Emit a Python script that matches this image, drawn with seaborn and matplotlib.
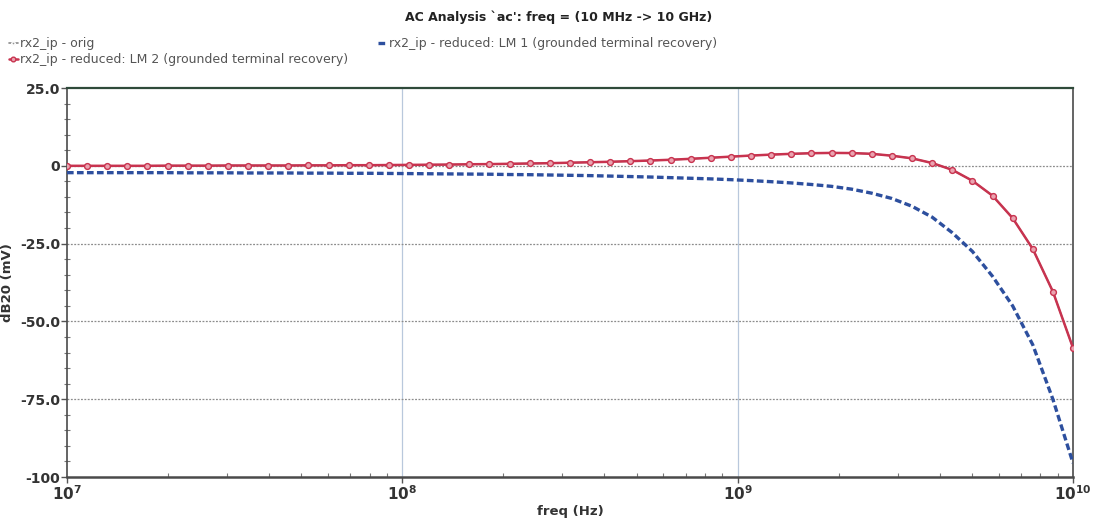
import numpy as np
import pandas as pd
import matplotlib
matplotlib.use("Agg")
import matplotlib.pyplot as plt
import seaborn as sns
from matplotlib.ticker import FixedLocator, LogLocator, NullFormatter

# Frequency sweep: 50 log-spaced steps from 10 MHz to 10 GHz
freq_hz = np.logspace(7, 10, 51)

# dB20 of rx2_ip for each model (mV)
db_lm2 = [
    0.00, 0.00, 0.00, 0.00, 0.00, 0.05, 0.05, 0.05, 0.10, 0.10,
    0.10, 0.10, 0.15, 0.15, 0.20, 0.20, 0.25, 0.30, 0.35, 0.40,
    0.50, 0.55, 0.65, 0.75, 0.85, 1.00, 1.15, 1.30, 1.50, 1.70,
    1.95, 2.25, 2.60, 2.95, 3.30, 3.60, 3.85, 4.05, 4.15, 4.10,
    3.85, 3.25, 2.40, 0.90, -1.30, -4.80, -9.60, -16.8, -26.7, -40.4,
    -58.5,
]
db_orig = list(db_lm2)
db_lm1 = [
    -2.20, -2.20, -2.20, -2.20, -2.20, -2.20, -2.25, -2.25, -2.25, -2.30,
    -2.30, -2.30, -2.35, -2.35, -2.40, -2.40, -2.45, -2.50, -2.55, -2.60,
    -2.65, -2.70, -2.80, -2.85, -2.95, -3.05, -3.15, -3.30, -3.45, -3.60,
    -3.80, -4.00, -4.20, -4.45, -4.75, -5.10, -5.50, -6.00, -6.60, -7.50,
    -8.80, -10.5, -13.0, -16.5, -21.5, -27.5, -35.5, -45.0, -57.5, -75.0,
    -95.5,
]

labels = {
    "orig": "rx2_ip - orig",
    "lm1": "rx2_ip - reduced: LM 1 (grounded terminal recovery)",
    "lm2": "rx2_ip - reduced: LM 2 (grounded terminal recovery)",
}
title = "AC Analysis `ac': freq = (10 MHz -> 10 GHz)"
y_ticks = [25.0, 0, -25.0, -50.0, -75.0, -100]
y_tick_labels = ["25.0", "0", "-25.0", "-50.0", "-75.0", "-100"]

df = pd.DataFrame({"freq": freq_hz, "orig": db_orig, "lm1": db_lm1, "lm2": db_lm2})

sns.set_theme(style="white")
plt.rcParams["font.family"] = ["DejaVu Sans"]

fig = plt.figure(figsize=(10.94, 5.19), dpi=100)
ax = fig.add_axes([0.0612, 0.0809, 0.9196, 0.7495])

red = "#c8334f"
blue = "#2d4f9e"
grey = "#8a8a8a"

sns.lineplot(data=df, x="freq", y="orig", ax=ax, color=grey, lw=1.2,
             marker="P", markersize=3.5, label=labels["orig"], zorder=2)
sns.lineplot(data=df, x="freq", y="lm2", ax=ax, color=red, lw=1.8,
             marker="o", markersize=4.2, markerfacecolor="#eaa3b0",
             markeredgecolor=red, markeredgewidth=1.0,
             label=labels["lm2"], zorder=4)
sns.lineplot(data=df, x="freq", y="lm1", ax=ax, color=blue, lw=2.4,
             label=labels["lm1"], zorder=3)
ax.lines[-1].set_dashes([2.0, 1.0])
ax.get_legend().remove()

ax.set_xscale("log")
ax.set_xlim(1e7, 1e10)
ax.set_ylim(-100, 25)

# grid: decade verticals and dotted horizontals
for d in [1e8, 1e9]:
    ax.axvline(d, color="#b9c8dc", lw=0.9, zorder=1)
for yv in [0, -25, -50, -75]:
    ax.axhline(yv, color="#8c8c8c", lw=0.9, ls=(0, (1.5, 1.2)), zorder=1)

ax.yaxis.set_major_locator(FixedLocator(y_ticks))
ax.set_yticklabels(y_tick_labels)
ax.yaxis.set_minor_locator(FixedLocator(np.arange(-100, 26, 5)))
ax.xaxis.set_major_locator(LogLocator(base=10, numticks=10))
ax.xaxis.set_minor_locator(LogLocator(base=10, subs=np.arange(2, 10), numticks=20))
ax.xaxis.set_minor_formatter(NullFormatter())

tick_col = "#333333"
ax.tick_params(axis="both", which="major", direction="out", length=4, width=1,
               color="#555555", labelsize=10, labelcolor=tick_col, pad=1)
ax.tick_params(axis="y", which="minor", direction="inout", length=4, width=0.8,
               color="#777777", left=True)
ax.tick_params(axis="x", which="minor", direction="in", length=3, width=0.8,
               color="#777777", bottom=True)
ax.tick_params(axis="y", which="major", direction="out", left=True)
ax.tick_params(axis="x", which="major", bottom=True, labelsize=11)
for lab in ax.get_xticklabels() + ax.get_yticklabels():
    lab.set_fontweight("bold")

for side, sp in ax.spines.items():
    sp.set_visible(True)
    sp.set_color("#4a4a4a")
    sp.set_linewidth(1.2)
ax.spines["bottom"].set_linewidth(1.8)
ax.spines["top"].set_color("#2f4a3a")
ax.spines["top"].set_linewidth(1.6)

ax.set_xlabel("freq (Hz)", fontsize=9.5, fontweight="bold", color=tick_col, labelpad=2)
ax.set_ylabel("dB20 (mV)", fontsize=9.5, fontweight="bold", color=tick_col, labelpad=4)

fig.text(0.511, 0.967, title, ha="center", va="center", fontsize=9,
         fontweight="bold", color="#222222")

h, l = ax.get_legend_handles_labels()
order = [l.index(labels["orig"]), l.index(labels["lm2"]), l.index(labels["lm1"])]
leg = fig.legend([h[i] for i in order], [l[i] for i in order], ncol=2,
                 loc="upper left", bbox_to_anchor=(0.0, 0.945), frameon=False,
                 fontsize=9, handlelength=0.7, handletextpad=0.2,
                 columnspacing=2.4, labelspacing=0.25, borderpad=0.2,
                 markerscale=0.8)
for t in leg.get_texts():
    t.set_color("#555555")

fig.savefig("out.png", dpi=100)
